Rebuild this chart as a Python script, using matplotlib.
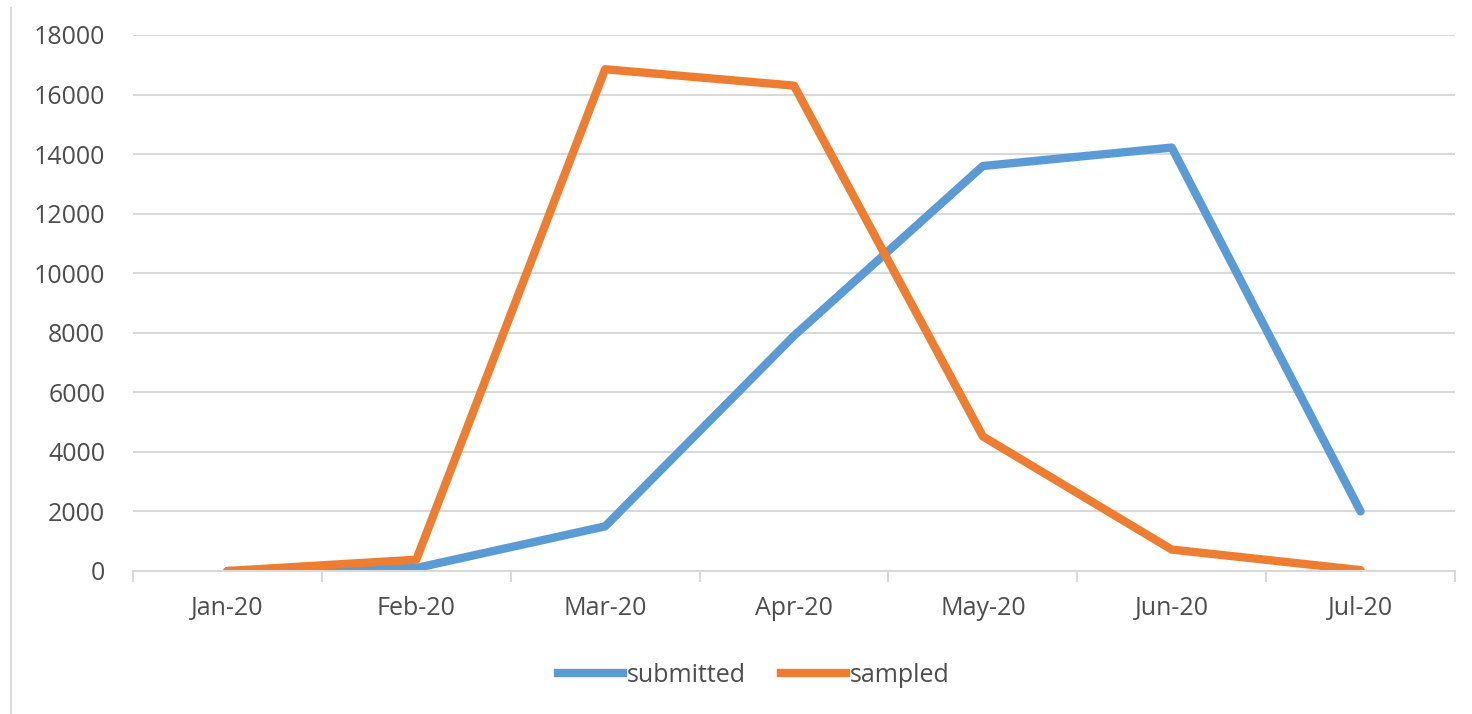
import matplotlib.pyplot as plt
from matplotlib.lines import Line2D

months = ['Jan-20', 'Feb-20', 'Mar-20', 'Apr-20', 'May-20', 'Jun-20', 'Jul-20']
submitted = [0, 100, 1500, 7900, 13600, 14220, 2000]
sampled = [0, 380, 16850, 16300, 4520, 720, 30]

plt.rcParams['font.family'] = ['Open Sans', 'DejaVu Sans']
txt = '#4d4d4d'
grid = '#d9d9d9'

fig = plt.figure(figsize=(14.72, 7.14), dpi=100)
ax = fig.add_axes([133/1472, 1-571/714, (1455-133)/1472, (571-35)/714])

x = list(range(len(months)))
ax.plot(x, submitted, color='#5b9bd5', lw=6, solid_capstyle='round', solid_joinstyle='round', label='submitted')
ax.plot(x, sampled, color='#ed7d31', lw=6, solid_capstyle='round', solid_joinstyle='round', label='sampled')

ax.set_xlim(-0.5, len(months)-0.5)
ax.set_ylim(0, 18000)
ax.set_yticks(range(0, 18001, 2000))
ax.set_xticks(x)
ax.set_xticklabels(months)
ax.set_xticks([i-0.5 for i in range(len(months)+1)], minor=True)

ax.grid(axis='y', color=grid, lw=1.5)
ax.set_axisbelow(True)
for s in ['top', 'right', 'left']:
    ax.spines[s].set_visible(False)
ax.spines['bottom'].set_color(grid)
ax.spines['bottom'].set_linewidth(1.5)

ax.tick_params(axis='y', length=0, pad=20, labelsize=18, labelcolor=txt)
ax.tick_params(axis='x', which='major', length=0, pad=18, labelsize=18, labelcolor=txt)
ax.tick_params(axis='x', which='minor', length=8, width=1.5, color=grid)

handles = [Line2D([], [], color='#5b9bd5', lw=6), Line2D([], [], color='#ed7d31', lw=6)]
fig.legend(handles, ['submitted', 'sampled'], loc='center', bbox_to_anchor=(754/1472, 1-675/714),
           ncol=2, frameon=False, fontsize=18, labelcolor=txt, handlelength=2.6,
           handletextpad=0.15, columnspacing=1.4)

# chart border on the left
fig.add_artist(Line2D([11/1472, 11/1472], [0, 1-8/714], color=grid, lw=1.5))

fig.savefig('out.png', dpi=100)
